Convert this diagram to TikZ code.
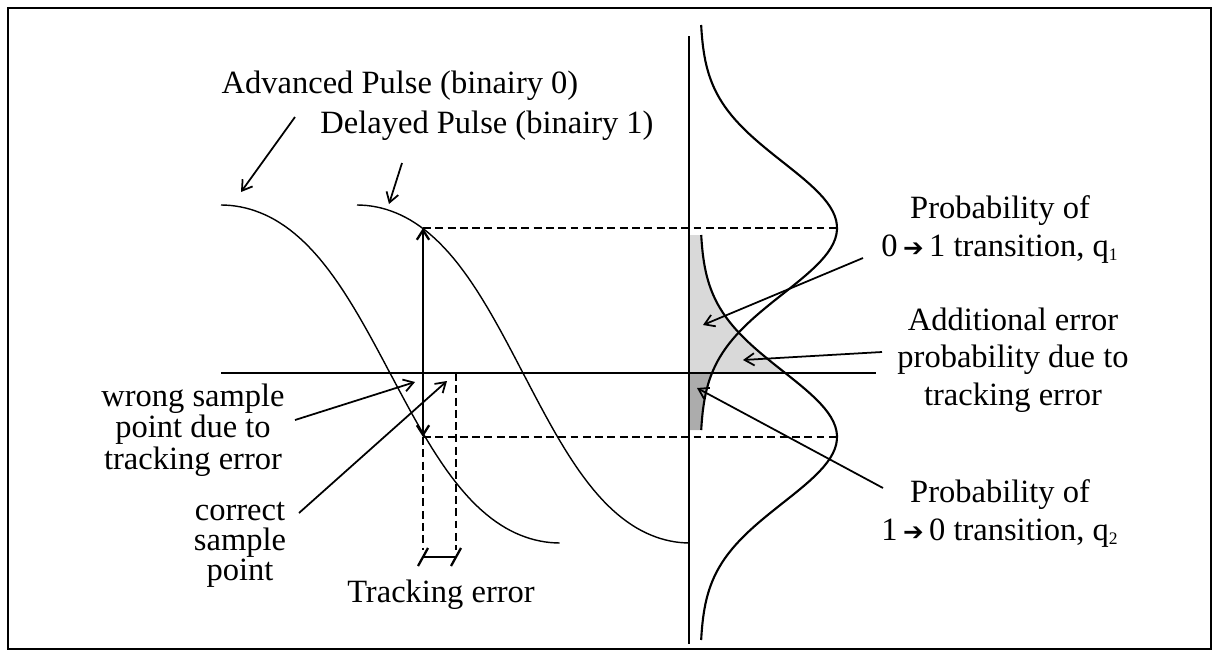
\documentclass[tikz,border=0pt]{standalone}
\usepackage{fontspec}
\setmainfont{Liberation Serif}
\newfontfamily\arrowfont{DejaVu Sans}
\usetikzlibrary{arrows.meta}
\newcommand{\tarrow}{{\arrowfont\fontsize{14}{14}\selectfont ➔}}
\newcommand{\qsub}[1]{\textsubscript{\fontsize{10}{10}\selectfont #1}}

\begin{document}
\begin{tikzpicture}[x=0.02cm,y=-0.02cm,
  font=\fontsize{18.5}{21.3}\selectfont,
  declare function={gs(\t,\c)=700+137*exp(-((\t-\c)/92.92)*((\t-\c)/92.92));
                    pl(\t)=tanh(0.8*cos(180*\t))/tanh(0.8);},
  lbl/.style={align=center,inner sep=0pt},
  tight/.style={font=\fontsize{18.5}{16}\selectfont},
  note/.style={line width=1pt,-{Straight Barb[length=5.5pt,width=7pt]}},
  samp/.style={line width=1.3pt,-{Straight Barb[length=5.5pt,width=7pt]}},
  pulse/.style={line width=0.8pt},
  gauss/.style={line width=1.2pt},
  guide/.style={line width=0.7pt,dash pattern=on 4.5pt off 2.5pt}]
\useasboundingbox (0,0) rectangle (1218,656);
\draw[line width=1.4pt] (8,8) rectangle (1211,649);

% shaded tails
\fill[gray!30] (689,235) -- plot[domain=235:373,samples=40] ({gs(\x,437)},\x) -- (689,373) -- cycle;
\fill[gray!65] (689,373) -- plot[domain=373:430,samples=20] ({gs(\x,228)},\x) -- (689,430) -- cycle;

% pulses
\draw[pulse] plot[domain=0:1,samples=70] ({221+339*\x},{374-169*pl(\x)});
\draw[pulse] plot[domain=0:1,samples=70] ({357+333*\x},{374-169*pl(\x)});

% distributions
\draw[gauss] plot[domain=25:430,samples=90] ({gs(\x,228)},\x);
\draw[gauss] plot[domain=235:640,samples=90] ({gs(\x,437)},\x);

% axes
\draw[line width=1.2pt] (221,373) -- (876,373);
\draw[line width=0.85pt] (689,36) -- (689,644);

% sample point and levels
\coordinate (smp) at (423,373);
\coordinate (hi) at (423,228);
\coordinate (lo) at (423,437);
\coordinate (pk1) at (837,228);
\coordinate (pk2) at (837,437);
\coordinate (cs) at (456,373);
\draw[guide] (hi) -- (pk1);
\draw[guide] (lo) -- (pk2);
\draw[guide] (lo) -- (423,550);
\draw[guide] (cs) -- (456,550);
\draw[samp] (smp) -- (hi);
\draw[samp] (smp) -- (lo);

% tracking error bar
\draw[line width=1.3pt] (423,557) -- (456,557);
\foreach \p in {423,456}
  \draw[line width=1.3pt] (\p-5,566) -- (\p+5,548);

% labels (base = last line)
\node[lbl,anchor=base] (adv) at (400,93) {Advanced Pulse (binairy 0)};
\node[lbl,anchor=base] (del) at (487,133) {Delayed Pulse (binairy 1)};
\node[lbl,tight,anchor=base] (wrong) at (193,469) {wrong sample\\point due to\\tracking error};
\node[lbl,anchor=base,font=\fontsize{18.5}{17}\selectfont] (corr) at (240,580) {correct\\sample\\point};
\node[lbl,anchor=base] (trk) at (441,602) {Tracking error};
\node[lbl,anchor=base] (p01) at (1000,256) {Probability of\\0\,\tarrow\,1 transition, q\qsub{1}};
\node[lbl,anchor=base] (addl) at (1013,405) {Additional error\\probability due to\\tracking error};
\node[lbl,anchor=base] (p10) at (1000,540) {Probability of\\1\,\tarrow\,0 transition, q\qsub{2}};

% pointers
\coordinate (advs) at (295,117); \coordinate (advt) at (241,192);
\coordinate (dels) at (402,163); \coordinate (delt) at (389,204);
\coordinate (wrs) at (295,420);  \coordinate (wrt) at (415,382);
\coordinate (cos) at (299,513);  \coordinate (cot) at (447,381);
\coordinate (p1s) at (863,258);  \coordinate (p1t) at (703,325);
\coordinate (ads) at (882,352);  \coordinate (adt) at (743,360);
\coordinate (p2s) at (883,488);  \coordinate (p2t) at (697,388);
\draw[note] (advs) -- (advt);
\draw[note] (dels) -- (delt);
\draw[note] (wrs) -- (wrt);
\draw[note] (cos) -- (cot);
\draw[note] (p1s) -- (p1t);
\draw[note] (ads) -- (adt);
\draw[note] (p2s) -- (p2t);
\end{tikzpicture}
\end{document}
